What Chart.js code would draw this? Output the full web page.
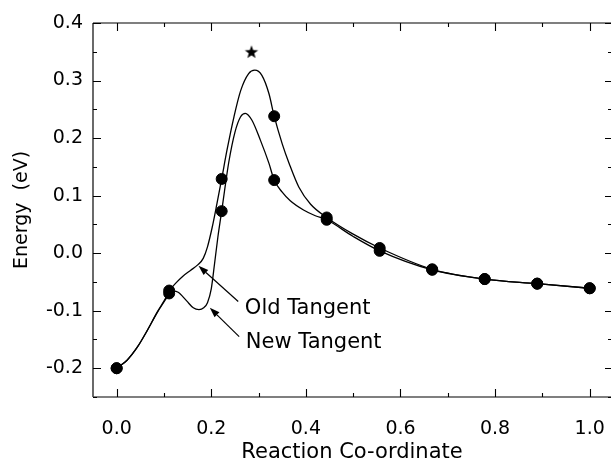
<!DOCTYPE html>
<html>
<head>
<meta charset="utf-8">
<script src="https://cdn.jsdelivr.net/npm/chart.js@4/dist/chart.umd.min.js"></script>
<style>
  html, body { margin: 0; padding: 0; background: #fff; overflow: hidden; }
  #wrap { width: 611px; height: 462px; position: relative; }
  #energyChart { display: block; }
</style>
</head>
<body>
<div id="wrap"><canvas id="energyChart"></canvas></div>
<script>
// image positions along the path (filled dots)
const imageX    = [0, 0.111, 0.222, 0.333, 0.444, 0.556, 0.667, 0.778, 0.889, 1.0];
const oldImageY = [-0.200, -0.065, 0.129, 0.238, 0.062, 0.009, -0.028, -0.045, -0.053, -0.061];
const newImageY = [-0.200, -0.070, 0.073, 0.127, 0.058, 0.004, -0.029, -0.045, -0.053, -0.061];

// traced curves
const oldCurveX = [0, 0.022, 0.044, 0.065, 0.086, 0.103, 0.111, 0.125, 0.14, 0.156, 0.172, 0.183,
                   0.192, 0.202, 0.212, 0.222, 0.233, 0.248, 0.262, 0.279, 0.292, 0.307, 0.322,
                   0.333, 0.35, 0.365, 0.385, 0.41, 0.444, 0.5, 0.556, 0.667, 0.778, 0.889, 1.0];
const oldCurveY = [-0.200, -0.186, -0.163, -0.134, -0.102, -0.079, -0.066, -0.052, -0.040, -0.030, -0.020, -0.009,
                   0.011, 0.045, 0.086, 0.129, 0.178, 0.237, 0.282, 0.312, 0.318, 0.309, 0.277,
                   0.238, 0.190, 0.155, 0.115, 0.085, 0.062, 0.033, 0.009, -0.028, -0.045, -0.053, -0.061];

const newCurveX = [0, 0.022, 0.044, 0.065, 0.086, 0.103, 0.111, 0.12, 0.13, 0.148, 0.162, 0.174, 0.184,
                   0.192, 0.2, 0.207, 0.214, 0.222, 0.228, 0.237, 0.25, 0.262, 0.272, 0.286, 0.304,
                   0.322, 0.333, 0.35, 0.367, 0.395, 0.42, 0.444, 0.5, 0.556, 0.667, 0.778, 0.889, 1.0];
const newCurveY = [-0.200, -0.186, -0.163, -0.134, -0.103, -0.081, -0.070, -0.066, -0.068, -0.083, -0.095, -0.098, -0.095,
                   -0.086, -0.062, -0.018, 0.028, 0.073, 0.108, 0.158, 0.210, 0.237, 0.243, 0.231, 0.196,
                   0.156, 0.127, 0.106, 0.091, 0.075, 0.065, 0.058, 0.029, 0.004, -0.029, -0.045, -0.053, -0.061];

// saddle point marker
const starX = [0.285];
const starY = [0.350];

// tick labels
const xTicks = [0.0, 0.2, 0.4, 0.6, 0.8, 1.0];
const yTicks = [-0.2, -0.1, 0.0, 0.1, 0.2, 0.3, 0.4];

// annotations: label, text anchor, arrow tail, arrow tip (data units)
const notes = [
    { text: "Old Tangent", tx: 0.271, ty: -0.106, x0: 0.257, y0: -0.084, x1: 0.173, y1: -0.022 },
    { text: "New Tangent", tx: 0.273, ty: -0.165, x0: 0.259, y0: -0.145, x1: 0.197, y1: -0.095 }
];

const zip = (xs, ys) => xs.map((x, i) => ({ x: x, y: ys[i] }));

// filled five-point star for the marker
const starImg = document.createElement("canvas");
starImg.width = 16; starImg.height = 16;
(function () {
    const g = starImg.getContext("2d");
    g.fillStyle = "#000";
    g.beginPath();
    for (let i = 0; i < 10; i++) {
        const r = i % 2 === 0 ? 7 : 2.9;
        const a = -Math.PI / 2 + i * Math.PI / 5;
        const px = 8 + r * Math.cos(a), py = 8.6 + r * Math.sin(a);
        if (i === 0) g.moveTo(px, py); else g.lineTo(px, py);
    }
    g.closePath();
    g.fill();
})();

const FONT = "'DejaVu Sans', 'Liberation Sans', sans-serif";

// frame with inward ticks on all four sides + arrows and labels
const framePlugin = {
    id: "frame",
    afterDraw(chart) {
        const { ctx, chartArea: a, scales: { x, y } } = chart;
        ctx.save();
        ctx.strokeStyle = "#000";
        ctx.lineWidth = 1.2;
        ctx.beginPath();
        ctx.moveTo(a.left, a.top); ctx.lineTo(a.right, a.top);
        ctx.moveTo(a.left, a.bottom); ctx.lineTo(a.right, a.bottom);
        ctx.stroke();
        ctx.strokeStyle = "#444";
        ctx.lineWidth = 1.6;
        ctx.beginPath();
        ctx.moveTo(a.left, a.top); ctx.lineTo(a.left, a.bottom);
        ctx.stroke();

        ctx.strokeStyle = "#000";
        ctx.lineWidth = 1.1;
        ctx.beginPath();
        xTicks.forEach((v, i) => {
            const px = Math.round(x.getPixelForValue(v)) + 0.5;
            ctx.moveTo(px, a.bottom); ctx.lineTo(px, a.bottom - 8);
            ctx.moveTo(px, a.top); ctx.lineTo(px, a.top + 8);
            if (i < xTicks.length - 1) {
                const m = Math.round(x.getPixelForValue(v + 0.1)) + 0.5;
                ctx.moveTo(m, a.bottom); ctx.lineTo(m, a.bottom - 4);
                ctx.moveTo(m, a.top); ctx.lineTo(m, a.top + 4);
            }
        });
        yTicks.forEach(v => {
            const py = Math.round(y.getPixelForValue(v)) + 0.5;
            ctx.moveTo(a.left, py); ctx.lineTo(a.left + 8, py);
            ctx.moveTo(a.right, py); ctx.lineTo(a.right - 6, py);
            const m = Math.round(y.getPixelForValue(v - 0.05)) + 0.5;
            ctx.moveTo(a.left, m); ctx.lineTo(a.left + 4, m);
            ctx.moveTo(a.right, m); ctx.lineTo(a.right - 3, m);
        });
        const top = Math.round(y.getPixelForValue(0.35)) + 0.5;
        ctx.moveTo(a.left, top); ctx.lineTo(a.left + 4, top);
        ctx.moveTo(a.right, top); ctx.lineTo(a.right - 3, top);
        ctx.stroke();

        // arrows
        notes.forEach(n => {
            const x0 = x.getPixelForValue(n.x0), y0 = y.getPixelForValue(n.y0);
            const x1 = x.getPixelForValue(n.x1), y1 = y.getPixelForValue(n.y1);
            const ang = Math.atan2(y1 - y0, x1 - x0);
            const hl = 10, hw = 3.5;
            const bx = x1 - hl * Math.cos(ang), by = y1 - hl * Math.sin(ang);
            ctx.lineWidth = 1.2;
            ctx.beginPath();
            ctx.moveTo(x0, y0); ctx.lineTo(bx, by);
            ctx.stroke();
            ctx.fillStyle = "#000";
            ctx.beginPath();
            ctx.moveTo(x1, y1);
            ctx.lineTo(bx + hw * Math.sin(ang), by - hw * Math.cos(ang));
            ctx.lineTo(bx - hw * Math.sin(ang), by + hw * Math.cos(ang));
            ctx.closePath();
            ctx.fill();

            ctx.font = "21px " + FONT;
            ctx.textAlign = "left";
            ctx.textBaseline = "alphabetic";
            ctx.fillText(n.text, x.getPixelForValue(n.tx), y.getPixelForValue(n.ty));
        });
        ctx.restore();
    }
};

new Chart(document.getElementById("energyChart"), {
    type: "scatter",
    data: {
        datasets: [
            {
                label: "old images",
                data: zip(imageX, oldImageY),
                backgroundColor: "#000",
                borderColor: "#000",
                pointRadius: 5.5,
                showLine: false
            },
            {
                label: "new images",
                data: zip(imageX, newImageY),
                backgroundColor: "#000",
                borderColor: "#000",
                pointRadius: 5.5,
                showLine: false
            },
            {
                label: "saddle",
                data: zip(starX, starY),
                pointStyle: starImg,
                pointRadius: 8,
                showLine: false
            },
            {
                label: "Old Tangent",
                data: zip(oldCurveX, oldCurveY),
                showLine: true,
                borderColor: "#000",
                borderWidth: 1.3,
                pointRadius: 0,
                cubicInterpolationMode: "monotone"
            },
            {
                label: "New Tangent",
                data: zip(newCurveX, newCurveY),
                showLine: true,
                borderColor: "#000",
                borderWidth: 1.3,
                pointRadius: 0,
                cubicInterpolationMode: "monotone"
            }
        ]
    },
    options: {
        responsive: true,
        maintainAspectRatio: false,
        animation: false,
        layout: { autoPadding: false, padding: { top: 23, right: 0, left: 0, bottom: 0 } },
        plugins: {
            legend: { display: false },
            tooltip: { enabled: false }
        },
        scales: {
            x: {
                type: "linear",
                min: -0.05,
                max: 1.045,
                afterBuildTicks: s => { s.ticks = xTicks.map(v => ({ value: v })); },
                afterFit: s => { s.height = 65; s.paddingLeft = 0; s.paddingRight = 0; },
                grid: { display: false, drawTicks: false },
                border: { display: false },
                ticks: {
                    padding: 21,
                    color: "#000",
                    font: { family: FONT, size: 19 },
                    maxRotation: 0,
                    callback: v => Number(v).toFixed(1)
                },
                title: {
                    display: true,
                    text: "Reaction Co-ordinate",
                    color: "#000",
                    font: { family: FONT, size: 21, lineHeight: 0.9 },
                    padding: { top: 0, bottom: 0 }
                }
            },
            y: {
                min: -0.25,
                max: 0.4,
                afterBuildTicks: s => { s.ticks = yTicks.map(v => ({ value: v })); },
                afterFit: s => { s.width = 93; s.paddingTop = 0; s.paddingBottom = 0; },
                grid: { display: false, drawTicks: false },
                border: { display: false },
                ticks: {
                    padding: 10,
                    color: "#000",
                    font: { family: FONT, size: 19 },
                    callback: v => Number(v).toFixed(1)
                },
                title: {
                    display: true,
                    text: "Energy  (eV)",
                    color: "#000",
                    font: { family: FONT, size: 19 },
                    padding: { top: 11, bottom: 0 }
                }
            }
        }
    },
    plugins: [framePlugin]
});
</script>
</body>
</html>
